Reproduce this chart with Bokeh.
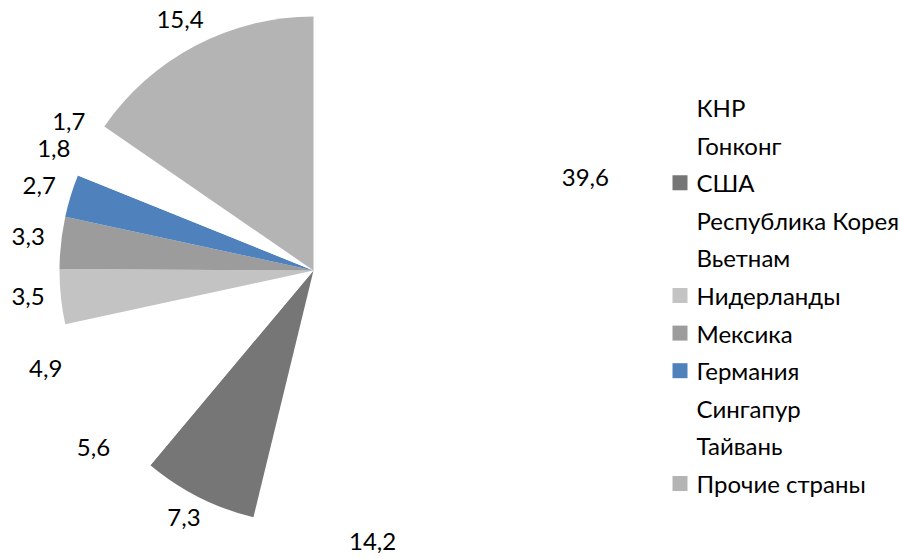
import math
from bokeh.plotting import figure
from bokeh.models import Range1d, ColumnDataSource
from bokeh.core.properties import value
from bokeh.embed import file_html
from bokeh.resources import INLINE

categories = ["КНР", "Гонконг", "США", "Республика Корея", "Вьетнам", "Нидерланды",
              "Мексика", "Германия", "Сингапур", "Тайвань", "Прочие страны"]
values = [39.6, 14.2, 7.3, 5.6, 4.9, 3.5, 3.3, 2.7, 1.8, 1.7, 15.4]
labels = ["39,6", "14,2", "7,3", "5,6", "4,9", "3,5", "3,3", "2,7", "1,8", "1,7", "15,4"]
colors = ["#ffffff", "#ffffff", "#767676", "#ffffff", "#ffffff", "#c3c3c3",
          "#9c9c9c", "#4f81bd", "#ffffff", "#ffffff", "#b4b4b4"]

W, H = 899, 559
CX, CY = 313, H - 270
R = 254
RX, RY = 287, 280
FONT = "Lato"
FS = "24px"

p = figure(width=W, height=H, output_backend="svg", toolbar_location=None,
           x_range=Range1d(0, W), y_range=Range1d(0, H), min_border=0)
p.axis.visible = False
p.grid.visible = False
p.outline_line_color = None

total = sum(values)
starts, ends, lx, ly = [], [], [], []
acc = 0.0
for v in values:
    t1 = acc / total * 2 * math.pi
    t2 = (acc + v) / total * 2 * math.pi
    starts.append(math.pi / 2 - t1)
    ends.append(math.pi / 2 - t2)
    tm = (t1 + t2) / 2
    lx.append(CX + RX * math.sin(tm))
    ly.append(CY + RY * math.cos(tm) + 3)
    acc += v

src = ColumnDataSource(dict(start=starts, end=ends, color=colors, lx=lx, ly=ly, lab=labels))
p.wedge(x=CX, y=CY, radius=R, start_angle="start", end_angle="end", direction="clock",
        fill_color="color", line_color=None, source=src)
p.text(x="lx", y="ly", text="lab", source=src, text_align="center", text_baseline="middle",
       text_font=value(FONT), text_font_size=FS, text_color="#000000")

# legend
n = len(categories)
leg_y = [H - (107 + i * 37.6) for i in range(n)]
leg = ColumnDataSource(dict(y=leg_y, cat=categories, color=colors))
p.rect(x=679.5, y="y", width=15, height=15, fill_color="color", line_color=None, source=leg)
p.text(x=696, y="y", text="cat", source=leg, text_align="left", text_baseline="middle",
       text_font=value(FONT), text_font_size=FS, text_color="#000000")

open("out.html", "w").write(file_html(p, INLINE))
